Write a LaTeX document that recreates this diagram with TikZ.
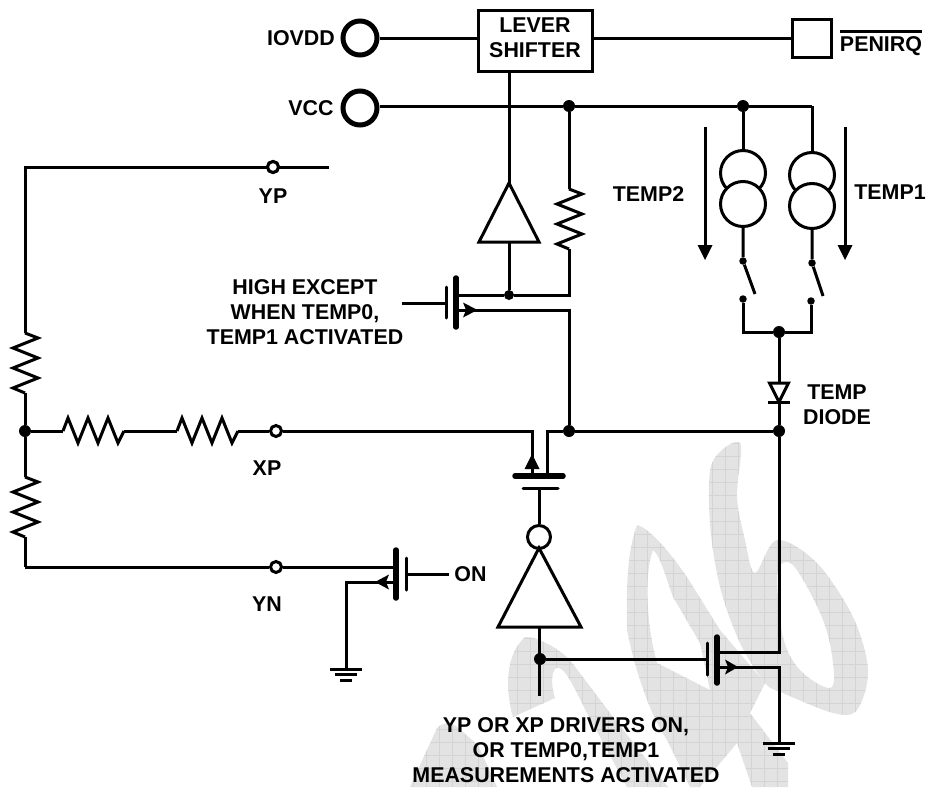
\documentclass[tikz,border=0pt]{standalone}
\usepackage{fontspec}
\setmainfont{Liberation Sans}
\tikzset{
  wire/.style={line width=3pt, line join=miter},
  gatebar/.style={line width=5.5pt, line cap=round},
  thinbar/.style={line width=3pt, line cap=round},
  dot/.style={circle, fill=black, inner sep=0pt, minimum size=12pt},
  smalldot/.style={circle, fill=black, inner sep=0pt, minimum size=7.5pt},
  term/.style={circle, draw, fill=white, line width=5pt, inner sep=0pt, minimum size=34pt},
  pin/.style={circle, draw, fill=white, line width=3pt, inner sep=0pt, minimum size=11pt},
  srccircle/.style={circle, draw, fill=white, line width=3pt, inner sep=0pt, minimum size=45pt},
  lbl/.style={font=\fontsize{21.4}{25}\selectfont\bfseries, align=center, inner sep=0pt},
  watermark/.style={fill=black!11, even odd rule, path picture={
    \foreach \gx in {400,413,...,880} \draw[black!17, line width=0.6pt] (\gx,430) -- (\gx,787);
    \foreach \gy in {430,443,...,787} \draw[black!17, line width=0.6pt] (400,\gy) -- (880,\gy);
  }},
  resv/.pic={\draw[wire] (0,0) -- (13,5) -- (-12,15) -- (13,25) -- (-12,35) -- (13,45) -- (-12,55) -- (0,60);},
  resh/.pic={\draw[wire] (0,0) -- (5,-13) -- (15,12) -- (25,-13) -- (35,12) -- (45,-13) -- (55,12) -- (61,0);},
  gnd/.pic={
    \draw[wire] (-16,0) -- (16,0);
    \draw[wire] (-11,5.5) -- (11,5.5);
    \draw[wire] (-6,11) -- (6,11);
  },
}
\begin{document}
\begin{tikzpicture}[x=1pt, y=-1pt]
  \useasboundingbox (0,0) rectangle (931,787);

  % watermark behind the circuit
  \path[watermark] plot[smooth cycle, tension=0.55] coordinates {(740,443) (712,463) (710,523) (720,587) (740,643) (765,683) (783,693) (833,713) (857,710) (868,670) (853,617) (817,563) (777,540) (755,573) (745,540) (737,497)}
    plot[smooth cycle, tension=0.6] coordinates {(783,563) (777,580) (783,637) (800,670) (830,688) (833,663) (823,620) (797,570)};
  \path[watermark] (627,630) .. controls (626,580) and (628,550) .. (637,525)
    .. controls (650,528) and (672,555) .. (687,577) -- (720,630) -- (765,683) -- (750,713) -- (788,763) -- (788,787) -- (752,787)
    -- (737,743) -- (700,787) -- (690,787) -- (667,740) .. controls (650,715) and (635,670) .. (627,630) -- cycle
    (653,550) .. controls (645,570) and (645,620) .. (657,663) -- (710,690) -- (700,643) -- (673,597) .. controls (665,575) and (660,555) .. (653,550) -- cycle;
  \path[watermark] (513,717) .. controls (505,690) and (505,655) .. (525,637)
    .. controls (540,637) and (560,650) .. (570,660) -- (613,717) -- (668,787) -- (627,787) -- (587,713)
    .. controls (575,690) and (565,665) .. (556,668) .. controls (551,672) and (551,685) .. (555,698) -- cycle;
  \path[watermark] (410,787) -- (437,728) .. controls (443,722) and (450,722) .. (456,726) -- (478,745) -- (497,787) -- cycle;

  % top row
  \node[term] (iovdd) at (360,38) {};
  \node[term] (vcc) at (360,108) {};
  \node[draw, wire, minimum width=114pt, minimum height=61pt, inner sep=0pt] (shifter) at (535,40.5) {};
  \node[draw, wire, minimum width=39pt, minimum height=38pt, inner sep=0pt] (penbox) at (811.5,38) {};
  \node[lbl] at (301,38) {IOVDD};
  \node[lbl] at (311,108) {VCC};
  \node[lbl] at (535,38) {LEVER\\SHIFTER};
  \node[lbl] (penirq) at (881,46) {PENIRQ};
  \draw[wire] (penirq.north west |- 0,31) -- (penirq.north east |- 0,31);

  \draw[wire] (iovdd) -- (shifter.west |- iovdd.east);
  \draw[wire] (shifter.east |- penbox.west) -- (penbox);

  % VCC rail
  \node[dot] (railA) at (569,106) {};
  \node[dot] (railB) at (743,106) {};
  \coordinate (railC) at (812,106);
  \draw[wire] (vcc.east |- railA) -- (railA) -- (railB) -- (railC);

  % buffer and pull up
  \coordinate (bufTop) at (509,183);
  \coordinate (bufBot) at (509,242);
  \node[dot, minimum size=10pt] (fetDot) at (509,295) {};
  \draw[wire] (shifter.south -| bufTop) -- (bufTop);
  \draw[wire] (bufTop) -- (539,242) -- (479,242) -- cycle;
  \draw[wire] (bufBot) -- (fetDot);
  \coordinate (pullTop) at (569,189);
  \coordinate (pullBot) at (569,249);
  \coordinate (pullCorner) at (569,295);
  \coordinate (fetA) at (456,295);
  \pic at (pullTop) {resv};
  \draw[wire] (railA) -- (pullTop);
  \draw[wire] (pullBot) -- (pullCorner) -- (fetDot) -- (fetA);

  % upper FET
  \draw[gatebar] (456,278) -- (456,327);
  \draw[thinbar] (446,287) -- (446,318);
  \coordinate (gateA) at (402,303);
  \draw[wire] (gateA) -- (446,303);
  \node[dot] (xpJoin) at (569,431) {};
  \coordinate (fetB) at (456,310);
  \coordinate (srcCorner) at (569,310);
  \draw[wire] (fetB) -- (srcCorner) -- (xpJoin);
  \fill (463,302.5) -- (477.5,310) -- (463,317.5) -- (466,310) -- cycle;
  \node[lbl] at (305,312) {HIGH EXCEPT\\WHEN TEMP0,\\TEMP1 ACTIVATED};

  % current sources
  \node[srccircle] (srcLa) at (743,173) {};
  \node[srccircle] (srcLb) at (743,204) {};
  \node[srccircle] (srcRa) at (812,175) {};
  \node[srccircle] (srcRb) at (812,206) {};
  \node[smalldot] (swLa) at (743,261) {};
  \node[smalldot] (swRa) at (812,263) {};
  \node[smalldot] (swLb) at (743,299) {};
  \node[smalldot] (swRb) at (811,301) {};
  \coordinate (swLc) at (755,294);
  \coordinate (swRc) at (823,296);
  \coordinate (swLd) at (743,332);
  \coordinate (swRd) at (811,332);
  \node[dot] (diodeTop) at (779,332) {};
  \draw[wire] (railB) -- (srcLa);
  \draw[wire] (railC) -- (srcRa);
  \draw[wire] (srcLb) -- (swLa) -- (swLc);
  \draw[wire] (srcRb) -- (swRa) -- (swRc);
  \draw[wire] (swLb) -- (swLd) -- (diodeTop) -- (swRd) -- (swRb);

  % direction arrows
  \coordinate (arrLa) at (705,127);
  \coordinate (arrLb) at (705,246);
  \coordinate (arrRa) at (845,127);
  \coordinate (arrRb) at (845,246);
  \draw[wire] (arrLa) -- (arrLb);
  \draw[wire] (arrRa) -- (arrRb);
  \fill (697.5,245) -- (712.5,245) -- (705,260) -- cycle;
  \fill (837.5,245) -- (852.5,245) -- (845,260) -- cycle;
  \node[lbl] at (648.5,194) {TEMP2};
  \node[lbl] at (890,192) {TEMP1};

  % diode
  \node[dot] (diodeBot) at (779,431) {};
  \draw[wire] (diodeTop) -- (diodeBot);
  \draw[wire, fill=white] (769.5,383) -- (788.5,383) -- (779,402) -- cycle;
  \draw[wire] (768,402.5) -- (790,402.5);
  \node[lbl] at (837,405) {TEMP\\DIODE};

  % resistor ladder on the left
  \coordinate (ypCorner) at (25,167);
  \coordinate (ypEnd) at (329,167);
  \node[pin] (yp) at (273,167) {};
  \node[dot] (ladder) at (25,431) {};
  \coordinate (ladA) at (25,333);
  \coordinate (ladB) at (25,393);
  \coordinate (ladC) at (25,477);
  \coordinate (ladD) at (25,537);
  \coordinate (ynCorner) at (25,567);
  \pic at (ladA) {resv};
  \pic at (ladC) {resv};
  \draw[wire] (ypEnd) -- (ypCorner) -- (ladA);
  \draw[wire] (ladB) -- (ladder) -- (ladC);
  \draw[wire] (ladD) -- (ynCorner);
  \node[pin] at (yp) {};
  \node[lbl] at (273,196) {YP};

  \coordinate (serA) at (63,431);
  \coordinate (serB) at (124,431);
  \coordinate (serC) at (177,431);
  \coordinate (serD) at (238,431);
  \node[pin] (xp) at (276,431) {};
  \pic at (serA) {resh};
  \pic at (serC) {resh};
  \draw[wire] (ladder) -- (serA);
  \draw[wire] (serB) -- (serC);
  \draw[wire] (serD) -- (xp);
  \node[lbl] at (267,468) {XP};

  % lower FET between XP and the diode
  \coordinate (passA) at (532,431);
  \coordinate (passB) at (547,431);
  \coordinate (passC) at (532,476);
  \coordinate (passD) at (547,476);
  \draw[wire] (xp) -- (passA) -- (passC);
  \draw[wire] (passD) -- (passB) -- (xpJoin) -- (diodeBot);
  \draw[gatebar] (515,476) -- (563,476);
  \draw[thinbar] (523,488) -- (558,488);
  \fill (532,454) -- (539.5,469) -- (524.5,469) -- cycle;

  % inverter
  \coordinate (invGate) at (539,488);
  \node[pin, minimum size=23pt] (bubble) at (539,537) {};
  \coordinate (invTop) at (539,548);
  \coordinate (invBot) at (539,627);
  \coordinate (invEnd) at (539,696);
  \node[dot] (invDot) at (540,659) {};
  \draw[wire] (invGate) -- (bubble);
  \draw[wire] (invTop) -- (581,627) -- (498,627) -- cycle;
  \draw[wire] (invBot) -- (invEnd);

  % bottom right FET
  \coordinate (gateC) at (707,659);
  \coordinate (botA) at (717,652);
  \coordinate (botB) at (779,652);
  \coordinate (botC) at (717,667);
  \coordinate (botD) at (779,667);
  \coordinate (gndR) at (779,743);
  \draw[wire] (invDot) -- (gateC);
  \draw[gatebar] (717,637) -- (717,683);
  \draw[thinbar] (707,643) -- (707,675);
  \draw[wire] (diodeBot) -- (botB) -- (botA);
  \draw[wire] (botC) -- (botD) -- (gndR);
  \fill (725,659.5) -- (738,667) -- (725,674.5) -- (728,667) -- cycle;
  \pic at (gndR) {gnd};
  \node[lbl] at (566,750) {YP OR XP DRIVERS ON,\\OR TEMP0,TEMP1\\MEASUREMENTS ACTIVATED};

  % YN and the ON FET
  \node[pin] (yn) at (276,567) {};
  \coordinate (onA) at (396,567);
  \coordinate (onB) at (396,582);
  \coordinate (onC) at (346,582);
  \coordinate (gndL) at (346,669);
  \coordinate (onGate) at (406,574);
  \coordinate (onEnd) at (449,574);
  \draw[wire] (ynCorner) -- (yn) -- (onA);
  \draw[wire] (onB) -- (onC) -- (gndL);
  \draw[gatebar] (396,550) -- (396,598);
  \draw[thinbar] (406,558) -- (406,590);
  \draw[wire] (onGate) -- (onEnd);
  \fill (389,574.5) -- (375,582) -- (389,589.5) -- (386,582) -- cycle;
  \pic at (gndL) {gnd};
  \node[lbl] at (267,604) {YN};
  \node[lbl] at (470.5,574) {ON};
\end{tikzpicture}
\end{document}
